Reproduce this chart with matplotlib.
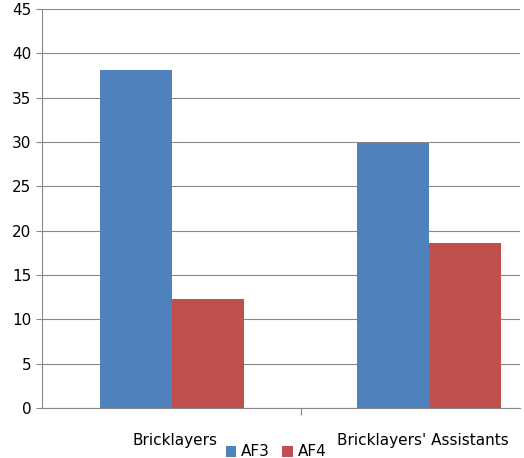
import matplotlib
matplotlib.use("Agg")
import matplotlib.pyplot as plt
import numpy as np

categories = ["Bricklayers", "Bricklayers' Assistants"]
series = ["AF3", "AF4"]
af3 = [38.1, 29.9]
af4 = [12.3, 18.6]
colors = ["#4F81BD", "#C0504D"]

fig = plt.figure(figsize=(5.24, 4.58), dpi=100)
ax = fig.add_axes([42/524, 50/458, 478/524, 399/458])
x = np.arange(len(categories))
w = 0.28
ax.bar(x - w/2, af3, w, color=colors[0], label=series[0], zorder=3)
ax.bar(x + w/2, af4, w, color=colors[1], label=series[1], zorder=3)
ax.set_xlim(-0.506, 1.354)
ax.set_ylim(0, 45)
ax.set_yticks(range(0, 46, 5))
ax.yaxis.grid(True, color="#888888", linewidth=0.8, zorder=0)
ax.set_xticks([0.5])
ax.set_xticklabels([])
ax.tick_params(axis="x", length=5, color="#888888")
ax.tick_params(axis="y", length=4, color="#888888", labelsize=11)
for s in ["top", "right"]:
    ax.spines[s].set_visible(False)
for s in ["left", "bottom"]:
    ax.spines[s].set_color("#888888")

fig.text(218/524, 1 - 440/458, categories[0], ha="right", va="center", fontsize=11)
fig.text(337/524, 1 - 440/458, categories[1], ha="left", va="center", fontsize=11)
fig.legend(loc="center", bbox_to_anchor=(276/524, 1 - 452/458), ncol=2, frameon=False,
           fontsize=11, handlelength=0.7, handleheight=0.7, columnspacing=0.8,
           handletextpad=0.3, borderpad=0)
fig.savefig("out.png", dpi=100)
